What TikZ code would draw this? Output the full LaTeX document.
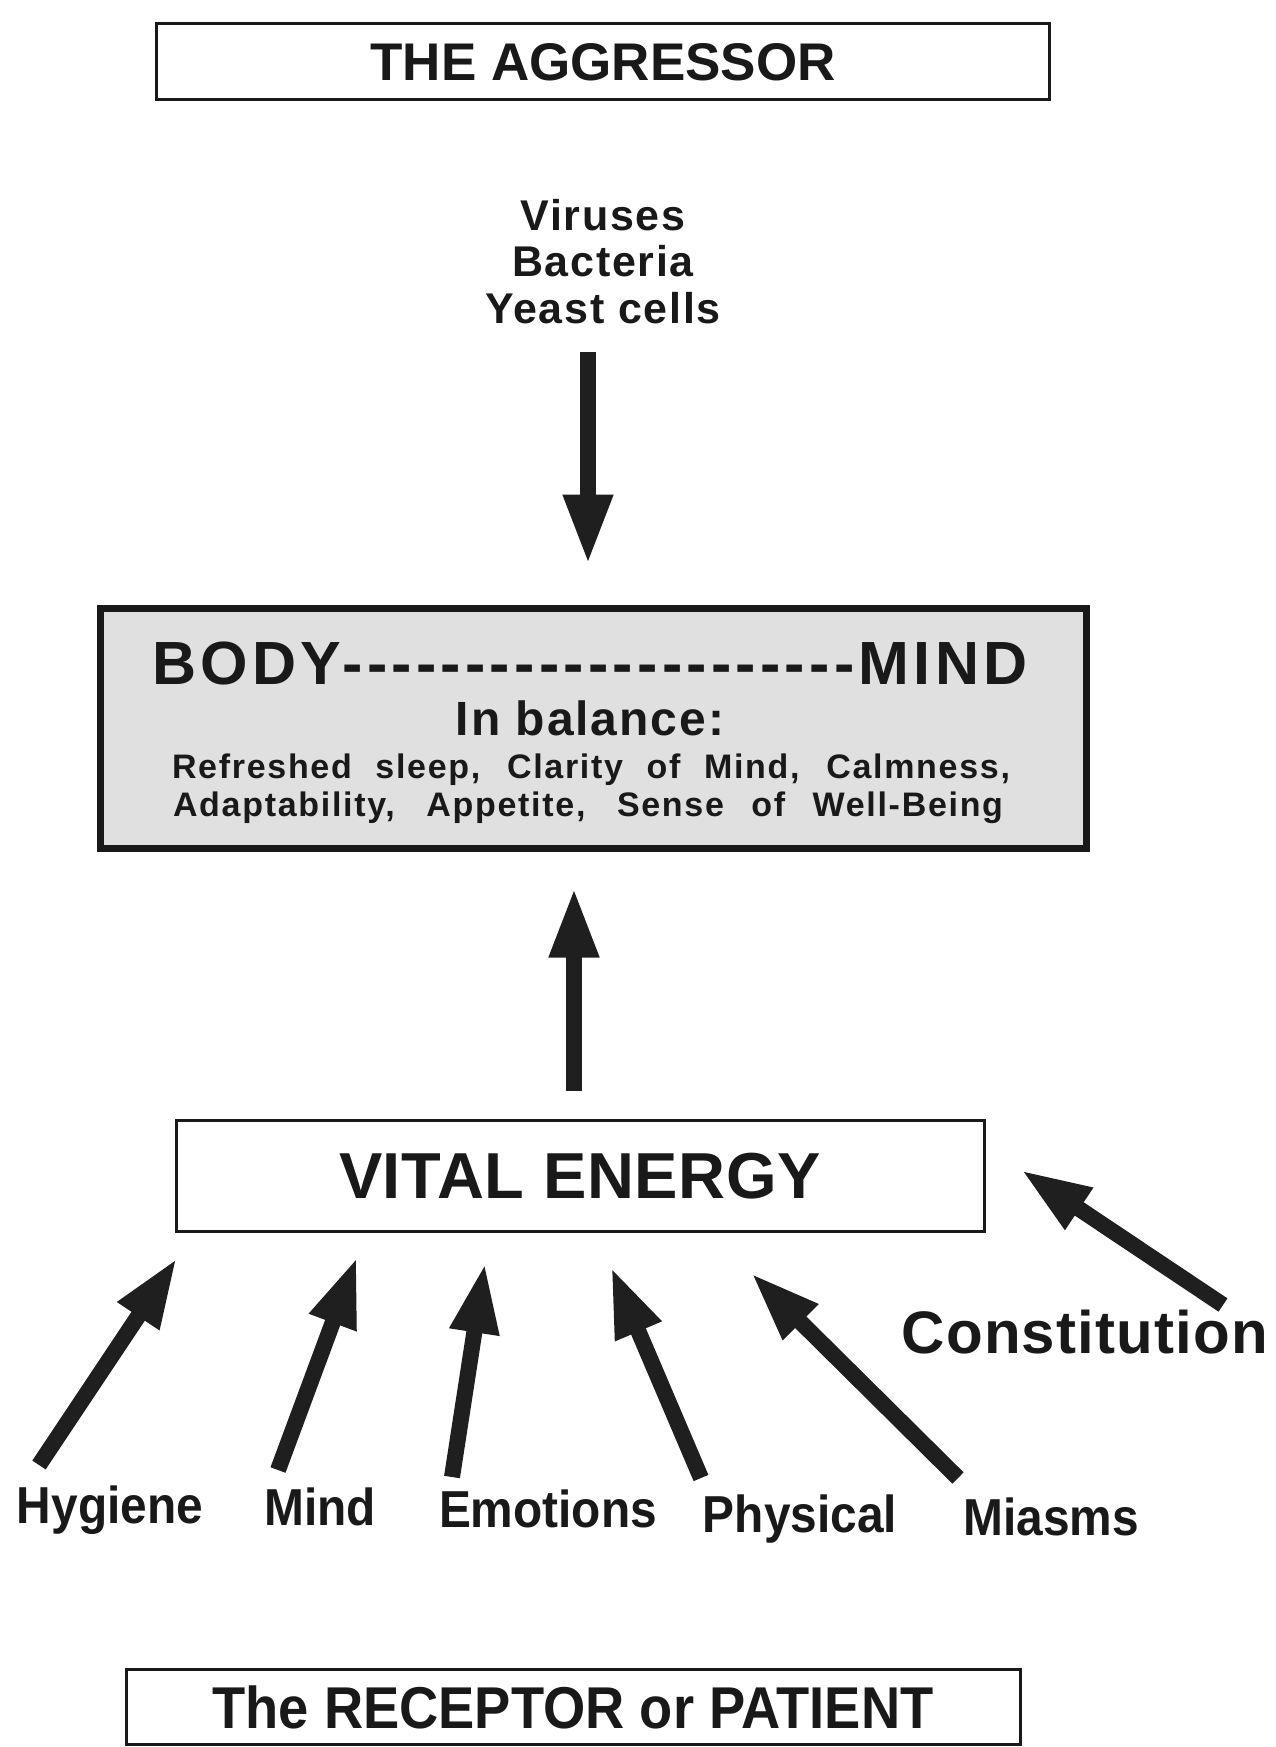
\documentclass[tikz,border=0pt]{standalone}
\usepackage{fontspec}
\usetikzlibrary{arrows.meta}
\newfontfamily\hv{Liberation Sans}
\newfontfamily\hvc{Liberation Sans}[FakeStretch=0.92]
\newcommand\sz[1]{\fontsize{#1}{#1}\selectfont}

\begin{document}
\begin{tikzpicture}[x=1pt,y=-1pt,
  frame/.style={draw=black!90,line width=3pt,inner sep=0pt,text=black!90},
  bigarrow/.style={draw=black!88,line width=16pt,-{Triangle[length=70pt,width=46pt]}},
  lbl/.style={anchor=base,inner sep=0pt,text=black!90,font=\hvc\bfseries\sz{52}},
  inbox/.style={anchor=base,inner sep=0pt,text=black!90}]

\useasboundingbox (0,0) rectangle (1275,1747);

\node[frame,minimum width=893pt,minimum height=76pt,font=\hv\bfseries\sz{53}] (aggr) at (603,62) {THE AGGRESSOR};

\node[align=center,inner sep=0pt,anchor=north,text=black!90,
  font=\hv\bfseries\fontsize{43}{46.5}\selectfont\addfontfeatures{LetterSpace=4}] (germs) at (603,199)
  {Viruses\\Bacteria\\Yeast cells};

% body and mind
\node[draw=black!90,fill=black!12,line width=7pt,minimum width=986pt,minimum height=240pt] (body) at (593,728) {};
\node[inbox,font=\hv\bfseries\sz{61}\addfontfeatures{LetterSpace=7}] (bm) at (590,684) {BODY---------------------MIND};
\node[inbox,font=\hv\bfseries\sz{48}\addfontfeatures{LetterSpace=4}] (bal) at (590,735) {In balance:};
\node[inbox,font=\hv\bfseries\sz{34}\addfontfeatures{LetterSpace=5}] (sign1) at (591,778)
  {\makebox[838pt][s]{Refreshed sleep, Clarity of Mind, Calmness,}};
\node[inbox,font=\hv\bfseries\sz{34}\addfontfeatures{LetterSpace=5}] (sign2) at (588,816)
  {\makebox[830pt][s]{Adaptability, Appetite, Sense of Well-Being}};

\draw[bigarrow] ([xshift=-15pt,yshift=-28pt]germs.south) -- ([xshift=-5pt,yshift=40pt]body.north);

\node[frame,minimum width=808pt,minimum height=111pt,font=\hv\bfseries\sz{65}\addfontfeatures{LetterSpace=1}] (vital) at (580,1176) {VITAL ENERGY};

\draw[bigarrow] ([xshift=-6pt,yshift=28pt]vital.north) -- ([xshift=-19pt,yshift=-36pt]body.south);

% what feeds the vital energy
\node[lbl] (hyg) at (110,1523) {Hygiene};
\node[lbl] (mnd) at (320,1525) {Mind};
\node[lbl] (emo) at (548,1527) {Emotions};
\node[lbl] (phy) at (800,1532) {Physical};
\node[lbl] (mia) at (1051,1535) {Miasms};
\node[lbl,font=\hv\bfseries\sz{60}\addfontfeatures{LetterSpace=2}] (con) at (1085,1353) {Constitution};

\foreach \nm/\tx/\ty/\hx/\hy in {hyg/39/1465/177/1258, mnd/278/1470/357/1257, emo/452/1477/485/1263,
  phy/701/1478/611/1267, mia/958/1478/751/1273, con/1223/1305/1021/1170}{
\coordinate (\nm-tail) at (\tx,\ty);
\coordinate (\nm-tip) at (\hx,\hy);
\draw[bigarrow] (\nm-tail) -- (\nm-tip);
}

\node[frame,minimum width=894pt,minimum height=75pt,font=\hvc\bfseries\sz{59}] (recp) at (573,1707) {The RECEPTOR or PATIENT};
\end{tikzpicture}
\end{document}
